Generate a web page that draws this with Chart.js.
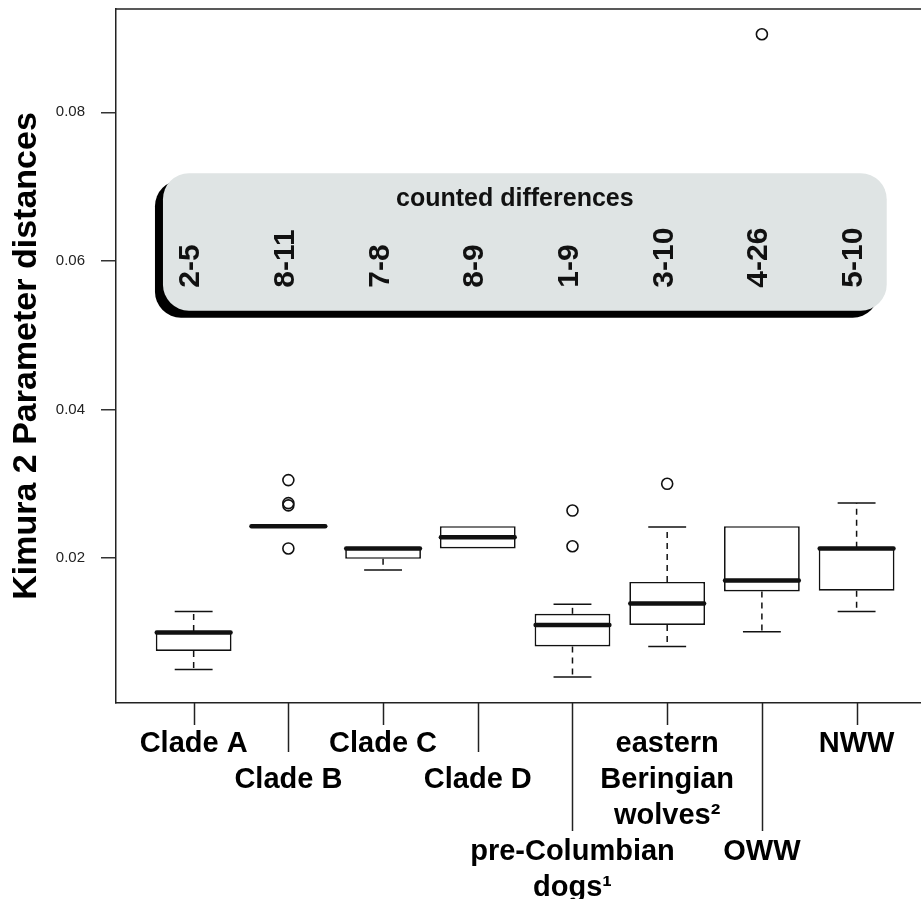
<!DOCTYPE html>
<html>
<head>
<meta charset="utf-8">
<script src="https://cdn.jsdelivr.net/npm/chart.js@4.4.1/dist/chart.umd.min.js"></script>
<style>
  html, body { margin: 0; padding: 0; background: #fff; overflow: hidden; }
  #wrap { width: 921px; height: 899px; position: relative; }
</style>
</head>
<body>
<div id="wrap"><canvas id="chart"></canvas></div>
<script>
// categories and the label lines shown under the axis
const categories = ['Clade A', 'Clade B', 'Clade C', 'Clade D',
    'pre-Columbian dogs¹', 'eastern Beringian wolves²', 'OWW', 'NWW'];
const labelLines = [['Clade A'], ['Clade B'], ['Clade C'], ['Clade D'],
    ['pre-Columbian', 'dogs¹'], ['eastern', 'Beringian', 'wolves²'], ['OWW'], ['NWW']];

// box statistics (Kimura 2 parameter distances)
const whiskerLow  = [0.0050, 0.0243, 0.0184, 0.0213, 0.0040, 0.0081, 0.0101, 0.0128];
const q1          = [0.0075, 0.0243, 0.0199, 0.0213, 0.0081, 0.0110, 0.0155, 0.0156];
const median      = [0.0100, 0.0243, 0.0213, 0.0228, 0.0110, 0.0139, 0.0170, 0.0213];
const q3          = [0.0102, 0.0243, 0.0214, 0.0243, 0.0125, 0.0168, 0.0243, 0.0214];
const whiskerHigh = [0.0128, 0.0243, 0.0214, 0.0243, 0.0138, 0.0242, 0.0243, 0.0274];
const outliers    = [[], [0.0305, 0.0274, 0.0271, 0.0213], [], [], [0.0264, 0.0216], [0.0300], [0.0905], []];

// counted differences shown in the grey panel
const countedDiffs = ['2-5', '8-11', '7-8', '8-9', '1-9', '3-10', '4-26', '5-10'];

const yTickValues = [0.02, 0.04, 0.06, 0.08];

// layout of the bottom labels: which text row each label starts on
const labelRow = [0, 1, 0, 1, 3, 0, 3, 0];
const FONT = "'Liberation Sans', Arial, Helvetica, sans-serif";

const boxData = categories.map((c, i) => ({ x: i + 1, y: [q1[i], q3[i]] }));
const outlierData = [];
outliers.forEach((list, i) => list.forEach(v => outlierData.push({ x: i + 1, y: v })));

const boxParts = {
    id: 'boxParts',
    beforeDatasetsDraw(chart) {
        const { ctx, scales: { x, y } } = chart;
        // panel with counted differences
        const left = x.getPixelForValue(0.676), right = x.getPixelForValue(8.318);
        const top = y.getPixelForValue(0.0718), bottom = y.getPixelForValue(0.0533);
        ctx.save();
        ctx.fillStyle = '#000';
        ctx.beginPath();
        ctx.roundRect(left - 8, top + 7, right - left, bottom - top, 26);
        ctx.fill();
        ctx.fillStyle = '#dfe4e4';
        ctx.beginPath();
        ctx.roundRect(left, top, right - left, bottom - top, 26);
        ctx.fill();

        ctx.fillStyle = '#111';
        ctx.font = 'bold 25px ' + FONT;
        ctx.textAlign = 'center';
        ctx.textBaseline = 'middle';
        ctx.fillText('counted differences', (left + right) / 2 - 10, y.getPixelForValue(0.0683));

        ctx.font = 'bold 30px ' + FONT;
        ctx.textAlign = 'left';
        ctx.textBaseline = 'alphabetic';
        const baseY = y.getPixelForValue(0.0564);
        countedDiffs.forEach((t, i) => {
            const cx = x.getPixelForValue(i + 1) - 5;
            ctx.save();
            ctx.translate(cx + 10.5, baseY);
            ctx.rotate(-Math.PI / 2);
            ctx.fillText(t, 0, 0);
            ctx.restore();
        });
        ctx.restore();
    },
    afterDatasetsDraw(chart) {
        const { ctx, scales: { x, y } } = chart;
        ctx.save();
        ctx.strokeStyle = '#111';
        categories.forEach((c, i) => {
            const cx = x.getPixelForValue(i + 1);
            const boxHalf = x.getPixelForValue(i + 1.4) - cx;
            const capHalf = x.getPixelForValue(i + 1.2) - cx;
            const whisker = (from, to) => {
                ctx.lineWidth = 1.5;
                ctx.setLineDash([6, 5]);
                ctx.beginPath();
                ctx.moveTo(cx, y.getPixelForValue(from));
                ctx.lineTo(cx, y.getPixelForValue(to));
                ctx.stroke();
                ctx.setLineDash([]);
                ctx.beginPath();
                ctx.moveTo(cx - capHalf, y.getPixelForValue(to));
                ctx.lineTo(cx + capHalf, y.getPixelForValue(to));
                ctx.stroke();
            };
            if (whiskerHigh[i] > q3[i]) whisker(q3[i], whiskerHigh[i]);
            if (whiskerLow[i] < q1[i]) whisker(q1[i], whiskerLow[i]);
            // median
            ctx.lineWidth = 4.5;
            ctx.lineCap = 'round';
            ctx.beginPath();
            ctx.moveTo(cx - boxHalf + 1, y.getPixelForValue(median[i]));
            ctx.lineTo(cx + boxHalf - 1, y.getPixelForValue(median[i]));
            ctx.stroke();
            ctx.lineCap = 'butt';
        });
        ctx.restore();
    },
    afterDraw(chart) {
        const { ctx, chartArea, scales: { x } } = chart;
        ctx.save();
        ctx.strokeStyle = '#222';
        ctx.lineWidth = 1.5;
        ctx.beginPath();
        ctx.moveTo(chartArea.left, chartArea.top);
        ctx.lineTo(chartArea.right, chartArea.top);
        ctx.stroke();
        const tickLen = [22, 49, 88, 128];
        categories.forEach((c, i) => {
            const cx = Math.round(x.getPixelForValue(i + 1)) + 0.5;
            ctx.beginPath();
            ctx.moveTo(cx, chartArea.bottom);
            ctx.lineTo(cx, chartArea.bottom + tickLen[labelRow[i]]);
            ctx.stroke();
        });
        ctx.restore();
    }
};

const ctx = document.getElementById('chart').getContext('2d');
new Chart(ctx, {
    type: 'bar',
    data: {
        datasets: [
            {
                label: 'box',
                data: boxData,
                backgroundColor: '#ffffff',
                borderColor: '#111',
                borderWidth: 1.7,
                borderSkipped: false,
                categoryPercentage: 1,
                barPercentage: 0.8
            },
            {
                type: 'scatter',
                label: 'outliers',
                data: outlierData,
                pointStyle: 'circle',
                pointRadius: 5.5,
                backgroundColor: 'rgba(255,255,255,0)',
                borderColor: '#111',
                borderWidth: 1.6
            }
        ]
    },
    options: {
        responsive: true,
        maintainAspectRatio: false,
        animation: false,
        layout: { autoPadding: false, padding: { top: 9, left: 0, right: 0, bottom: 0 } },
        plugins: {
            legend: { display: false },
            tooltip: { enabled: false }
        },
        scales: {
            x: {
                type: 'linear',
                offset: false,
                min: 0.18,
                max: 8.68,
                afterBuildTicks: (scale) => {
                    scale.ticks = categories.map((c, i) => ({ value: i + 1 }));
                },
                afterFit: (scale) => {
                    scale.height = 196;
                    scale.paddingLeft = 0;
                    scale.paddingRight = 0;
                },
                grid: { display: true, offset: false, drawOnChartArea: false, drawTicks: false },
                border: { display: true, color: '#222', width: 1.5 },
                ticks: {
                    autoSkip: false,
                    minRotation: 0,
                    maxRotation: 0,
                    padding: 23,
                    color: '#000',
                    font: { family: FONT, size: 29, weight: 'bold', lineHeight: 1.24 },
                    callback: (value) => {
                        const i = Math.round(value) - 1;
                        const lines = [];
                        for (let r = 0; r < labelRow[i]; r++) lines.push('');
                        return lines.concat(labelLines[i]);
                    }
                }
            },
            y: {
                type: 'linear',
                min: 0.0005,
                max: 0.0939,
                afterBuildTicks: (scale) => {
                    scale.ticks = yTickValues.map(v => ({ value: v }));
                },
                afterFit: (scale) => {
                    scale.width = 116;
                    scale.paddingTop = 0;
                    scale.paddingBottom = 0;
                },
                grid: { drawOnChartArea: false, drawTicks: true, tickLength: 15, color: '#333', lineWidth: 1.5 },
                border: { display: true, color: '#222', width: 1.5 },
                ticks: {
                    padding: 16,
                    color: '#222',
                    font: { family: FONT, size: 15 },
                    callback: (v) => v.toFixed(2)
                },
                title: {
                    display: true,
                    text: 'Kimura 2 Parameter distances',
                    color: '#000',
                    font: { family: FONT, size: 34, weight: 'bold' },
                    padding: { top: 6, bottom: 0 }
                }
            }
        }
    },
    plugins: [boxParts]
});
</script>
</body>
</html>
